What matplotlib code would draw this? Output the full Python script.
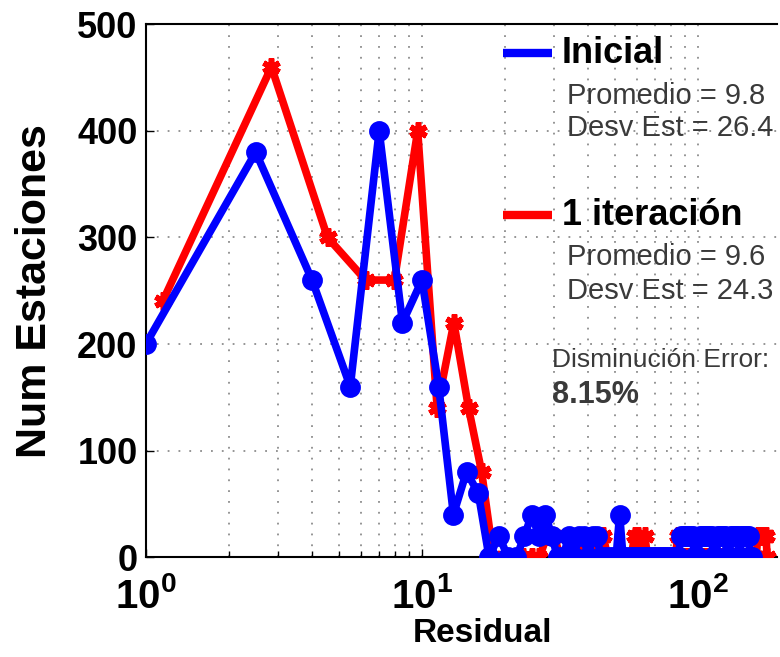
import numpy as np
import matplotlib
matplotlib.use("Agg")
import matplotlib.pyplot as plt
from matplotlib.ticker import FixedLocator, LogLocator, NullFormatter

plt.rcParams['font.family'] = ['Liberation Sans', 'DejaVu Sans']
plt.rcParams['mathtext.fontset'] = 'custom'
plt.rcParams['mathtext.bf'] = 'Liberation Sans:bold'
plt.rcParams['mathtext.rm'] = 'Liberation Sans:bold'

# ---------------------------------------------------------
# histogram of residuals: bin centres and counts (scaled)
# ---------------------------------------------------------
n_bins = 105
x_inicial = 1.0 + 1.5 * np.arange(n_bins)      # bin centres, initial run
x_iter1 = 1.15 + 1.7 * np.arange(n_bins)       # bin centres, after 1 iteration

y_inicial = [200, 380, 260, 160, 400, 220, 260, 160, 40, 80, 60,
             0, 20, 0, 0, 20, 40, 20, 40, 20, 0,
             0, 20, 0, 20, 20, 0, 20, 20, 0, 0,
             0, 0, 0, 40, 0, 0, 0, 0, 0, 0,
             0, 0, 0, 0, 0, 0, 0, 0, 0, 0,
             0, 0, 0, 0, 0, 0, 20, 20, 20, 20,
             20, 20, 20, 0, 0, 0, 20, 20, 20, 20,
             20, 20, 20, 20, 0, 0, 0, 20, 20, 20,
             20, 20, 20, 0, 0, 0, 20, 20, 20, 20,
             20, 20, 0, 0, 20, 20, 20, 20, 20, 20,
             20, 0, 0, 0]

y_iter1 = [240, 460, 300, 260, 260, 400, 140, 220, 140, 80,
           0, 0, 0, 0, 0, 0, 20, 20, 0, 0,
           0, 0, 20, 20, 0, 20, 20, 0, 0, 0,
           0, 0, 0, 0, 20, 20, 0, 20, 0, 0,
           0, 0, 0, 0, 0, 0, 0, 0, 0, 20,
           0, 0, 0, 0, 0, 0, 0, 0, 0, 0,
           0, 0, 0, 0, 0, 0, 0, 0, 0, 0,
           0, 0, 0, 0, 0, 0, 0, 0, 0, 0,
           0, 0, 0, 0, 0, 0, 0, 0, 0, 0,
           0, 0, 0, 0, 0, 0, 20, 20, 20, 20,
           20, 20, 20, 20, 0]

stats_inicial = ("Promedio = 9.8", "Desv Est = 26.4")
stats_iter1 = ("Promedio = 9.6", "Desv Est = 24.3")
reduction = "8.15%"

y_ticks = [0, 100, 200, 300, 400, 500]
x_ticks = [1, 10, 100]
x_tick_labels = [r'$\mathbf{10^{0}}$', r'$\mathbf{10^{1}}$', r'$\mathbf{10^{2}}$']

# ---------------------------------------------------------
# figure
# ---------------------------------------------------------
fig = plt.figure(figsize=(7.8, 6.57), dpi=100)
ax = fig.add_axes([0.187, 0.152, 0.809, 0.811])

ax.plot(x_iter1, y_iter1, color='#ff0000', lw=5.5, marker=(6, 2, 0),
        ms=13, mew=4, mec='#ff0000', zorder=3)
ax.plot(x_inicial, y_inicial, color='#0000ff', lw=5.5, marker='o',
        ms=12, mew=3, mec='#0000ff', mfc='#0000ff', zorder=4)

ax.set_xscale('log')
ax.set_xlim(1, 193)
ax.set_ylim(0, 500)

ax.xaxis.set_major_locator(FixedLocator(x_ticks))
ax.set_xticklabels(x_tick_labels)
ax.xaxis.set_minor_locator(LogLocator(base=10, subs=np.arange(2, 10)))
ax.xaxis.set_minor_formatter(NullFormatter())
ax.set_yticks(y_ticks)
ax.set_yticklabels([str(v) for v in y_ticks])

ax.tick_params(axis='both', which='both', direction='in', top=False, right=False)
ax.tick_params(axis='y', which='major', length=6, width=1, labelsize=26, pad=6)
ax.tick_params(axis='x', which='major', length=6, width=1, labelsize=29, pad=14)
ax.tick_params(axis='x', which='minor', length=4, width=1)
for lab in ax.get_yticklabels():
    lab.set_fontweight('bold')

dots = (0, (1, 5))
ax.grid(True, which='major', axis='both', linestyle=dots, color='#8c8c8c', lw=1.3)
ax.grid(True, which='minor', axis='x', linestyle=dots, color='#8c8c8c', lw=1.3)
ax.set_axisbelow(True)

for side in ['left', 'bottom', 'top']:
    ax.spines[side].set_linewidth(1.5)
ax.spines['right'].set_visible(False)

ax.set_xlabel('Residual', fontsize=24, fontweight='bold')
ax.xaxis.set_label_coords(0.534, -0.115)
ax.set_ylabel('Num Estaciones', fontsize=31, fontweight='bold', labelpad=16)

# ---------------------------------------------------------
# legend-style annotation block
# ---------------------------------------------------------
tc = '#3a3a3a'
ax.plot([0.566, 0.643], [0.946, 0.946], transform=ax.transAxes,
        color='#0000ff', lw=6, solid_capstyle='butt', zorder=5)
ax.text(0.659, 0.946, 'Inicial', transform=ax.transAxes, fontsize=26,
        fontweight='bold', va='center', ha='left', color='black')
ax.text(0.667, 0.865, stats_inicial[0], transform=ax.transAxes, fontsize=21,
        va='center', ha='left', color=tc)
ax.text(0.667, 0.805, stats_inicial[1], transform=ax.transAxes, fontsize=21,
        va='center', ha='left', color=tc)

ax.plot([0.566, 0.643], [0.642, 0.642], transform=ax.transAxes,
        color='#ff0000', lw=6, solid_capstyle='butt', zorder=5)
ax.text(0.659, 0.642, '1 iteración', transform=ax.transAxes, fontsize=26,
        fontweight='bold', va='center', ha='left', color='black')
ax.text(0.667, 0.563, stats_iter1[0], transform=ax.transAxes, fontsize=21,
        va='center', ha='left', color=tc)
ax.text(0.667, 0.499, stats_iter1[1], transform=ax.transAxes, fontsize=21,
        va='center', ha='left', color=tc)

ax.text(0.643, 0.370, 'Disminución Error:', transform=ax.transAxes,
        fontsize=19, va='center', ha='left', color=tc)
ax.text(0.643, 0.305, reduction, transform=ax.transAxes, fontsize=22,
        fontweight='bold', va='center', ha='left', color=tc)

fig.savefig('out.png', dpi=100)
